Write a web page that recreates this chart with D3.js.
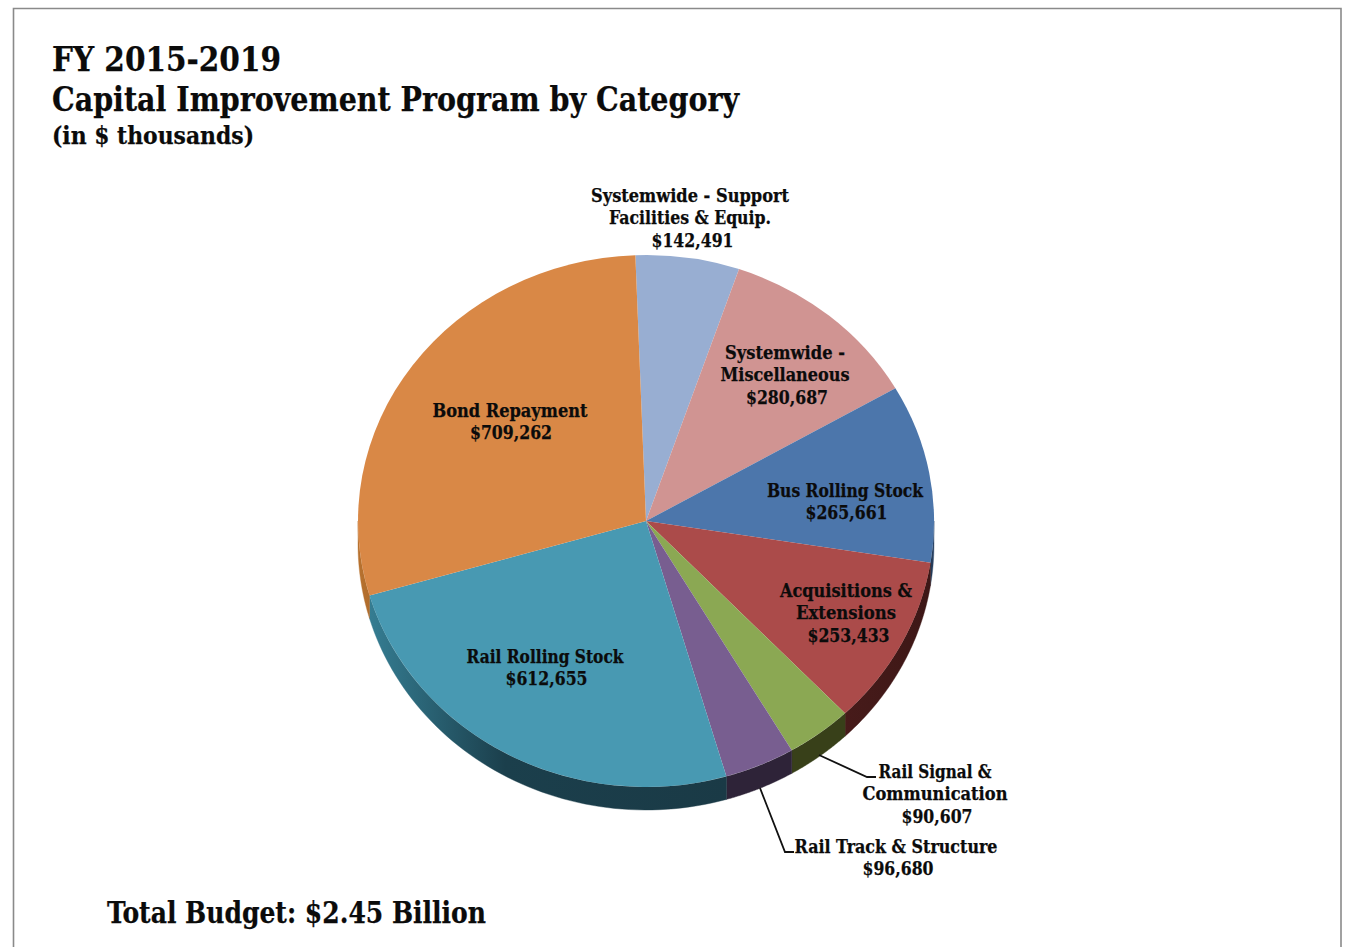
<!DOCTYPE html>
<html>
<head>
<meta charset="utf-8">
<script src="https://cdn.jsdelivr.net/npm/d3@7"></script>
<style>
html, body { margin: 0; padding: 0; background: #fff; }
svg { display: block; }
text { font-family: "DejaVu Serif Condensed", "DejaVu Serif", serif; font-weight: bold; fill: #0b0b0b; stroke: #0b0b0b; stroke-width: 0.25; }
</style>
</head>
<body>
<svg id="chart" width="1348" height="947"></svg>
<script>
// FY 2015-2019 programme amounts, in $ thousands, clockwise from the top of the pie
const categories = [
  "Systemwide - Support Facilities & Equip.",
  "Systemwide - Miscellaneous",
  "Bus Rolling Stock",
  "Acquisitions & Extensions",
  "Rail Signal & Communication",
  "Rail Track & Structure",
  "Rail Rolling Stock",
  "Bond Repayment"
];
const amounts = [142491, 280687, 265661, 253433, 90607, 96680, 612655, 709262];
const labelLines = [
  ["Systemwide - Support", "Facilities & Equip."],
  ["Systemwide -", "Miscellaneous"],
  ["Bus Rolling Stock"],
  ["Acquisitions &", "Extensions"],
  ["Rail Signal &", "Communication"],
  ["Rail Track & Structure"],
  ["Rail Rolling Stock"],
  ["Bond Repayment"]
];

// Face and rim colours per slice; rim runs from its lit end to its dark end
const faceColors = ["#98aed2", "#d09492", "#4c76ab", "#ab4b4a", "#8ba853", "#785e90", "#4899b2", "#d98846"];
const rimColors = [
  ["#98aed2", "#98aed2"], ["#d09492", "#d09492"], ["#2c4668", "#1f3550"],
  ["#3d1716", "#471b1a"], ["#384019", "#384019"], ["#2e2338", "#2e2338"],
  ["#1a3a46", "#357d92"], ["#b06c2c", "#b8722f"]
];

const W = 1348, H = 947;
const cx = 646, cy = 521, rx = 288, ry = 266, depth = 23;
const startAngle = -2.1 * Math.PI / 180;

const svg = d3.select("#chart");

// Page frame, open at the bottom edge
svg.append("path")
  .attr("d", d3.line()([[13.5, H], [13.5, 8.5], [1341, 8.5], [1341, H]]))
  .attr("fill", "none").attr("stroke", "#8a8a8a").attr("stroke-width", 1.6);

// Headings
const headings = [
  { text: "FY 2015-2019", x: 52, y: 70.5, size: 34, width: 229 },
  { text: "Capital Improvement Program by Category", x: 52, y: 111, size: 34, width: 687 },
  { text: "(in $ thousands)", x: 52, y: 144, size: 25, width: 202 },
  { text: "Total Budget: $2.45 Billion", x: 107, y: 923, size: 30, width: 379 }
];
svg.selectAll("text.heading").data(headings).join("text")
  .attr("class", "heading")
  .attr("x", d => d.x).attr("y", d => d.y)
  .attr("font-size", d => d.size)
  .attr("textLength", d => d.width)
  .attr("lengthAdjust", "spacingAndGlyphs")
  .text(d => d.text);

// Pie geometry from the amounts
const arcs = d3.pie().sort(null).value(d => d)
  .startAngle(startAngle).endAngle(startAngle + 2 * Math.PI)(amounts);

const sx = d3.scaleLinear().domain([-1, 1]).range([cx - rx, cx + rx]);
const sy = d3.scaleLinear().domain([-1, 1]).range([cy - ry, cy + ry]);
const rimPoint = (a, drop) => [sx(Math.sin(a)), sy(-Math.cos(a)) + drop];

// Rim: only the part of each slice that faces the viewer (pi/2 to 3pi/2)
const defs = svg.append("defs");
const rim = svg.append("g");
arcs.forEach((d, i) => {
  const a0 = Math.max(d.startAngle, Math.PI / 2), a1 = Math.min(d.endAngle, 3 * Math.PI / 2);
  if (a1 <= a0) return;
  const steps = d3.range(0, 61).map(k => a0 + (a1 - a0) * k / 60);
  const outline = steps.map(a => rimPoint(a, 0))
    .concat(steps.slice().reverse().map(a => rimPoint(a, depth)));
  const [p0, p1] = [rimPoint(a0, 0), rimPoint(a1, 0)];
  const grad = defs.append("linearGradient").attr("id", "rim" + i)
    .attr("gradientUnits", "userSpaceOnUse")
    .attr("x1", p0[0]).attr("y1", 0).attr("x2", p1[0]).attr("y2", 0);
  grad.append("stop").attr("offset", 0).attr("stop-color", rimColors[i][0]);
  if (i === 6) grad.append("stop").attr("offset", 0.62).attr("stop-color", "#1b3f4c");
  grad.append("stop").attr("offset", 1).attr("stop-color", rimColors[i][1]);
  rim.append("path")
    .attr("d", d3.line()(outline) + "Z")
    .attr("fill", `url(#rim${i})`)
    .attr("stroke", `url(#rim${i})`).attr("stroke-width", 0.4);
});

// Top face: a unit pie squashed to the ellipse
const unitArc = d3.arc().innerRadius(0).outerRadius(1);
svg.append("g")
  .attr("transform", `translate(${cx},${cy}) scale(${rx},${ry})`)
  .selectAll("path").data(arcs).join("path")
  .attr("d", unitArc)
  .attr("fill", (d, i) => faceColors[i]);

// Leader lines for the two slices labelled outside the pie
const leaders = [
  { slice: 4, path: [[819, 755], [867, 777], [876, 777]] },
  { slice: 5, path: [[760, 788], [785, 852], [794, 852]] }
];
svg.append("g").selectAll("path").data(leaders).join("path")
  .attr("d", d => d3.line()(d.path))
  .attr("fill", "none").attr("stroke", "#111").attr("stroke-width", 1.8);

// Slice labels: name lines followed by the dollar amount
const dollars = d3.format("$,");
const labelPlaces = [
  { x: 690, y: 202, widths: [198, 162, 82] },
  { x: 785, y: 359, widths: [120, 129, 82] },
  { x: 845, y: 497, widths: [156, 82] },
  { x: 846, y: 597, widths: [132, 100, 82] },
  { x: 935, y: 778, widths: [113, 145, 71] },
  { x: 896, y: 853, widths: [203, 71] },
  { x: 545, y: 663, widths: [157, 82] },
  { x: 510, y: 417, widths: [155, 82] }
];
const amountShift = [2.5, 2, 1.5, 2.5, 2, 2, 1.5, 1];
const lineGap = 22.3;

const labels = svg.append("g").selectAll("g").data(categories).join("g")
  .attr("transform", (d, i) => `translate(${labelPlaces[i].x},${labelPlaces[i].y})`);
labels.each(function (name, i) {
  const lines = labelLines[i].concat(dollars(amounts[i]));
  d3.select(this).selectAll("text").data(lines).join("text")
    .attr("x", (t, j) => j === lines.length - 1 ? amountShift[i] : 0)
    .attr("y", (t, j) => j * lineGap)
    .attr("text-anchor", "middle")
    .attr("font-size", 19)
    .attr("textLength", (t, j) => labelPlaces[i].widths[j])
    .attr("lengthAdjust", "spacingAndGlyphs")
    .text(t => t);
});
</script>
</body>
</html>
